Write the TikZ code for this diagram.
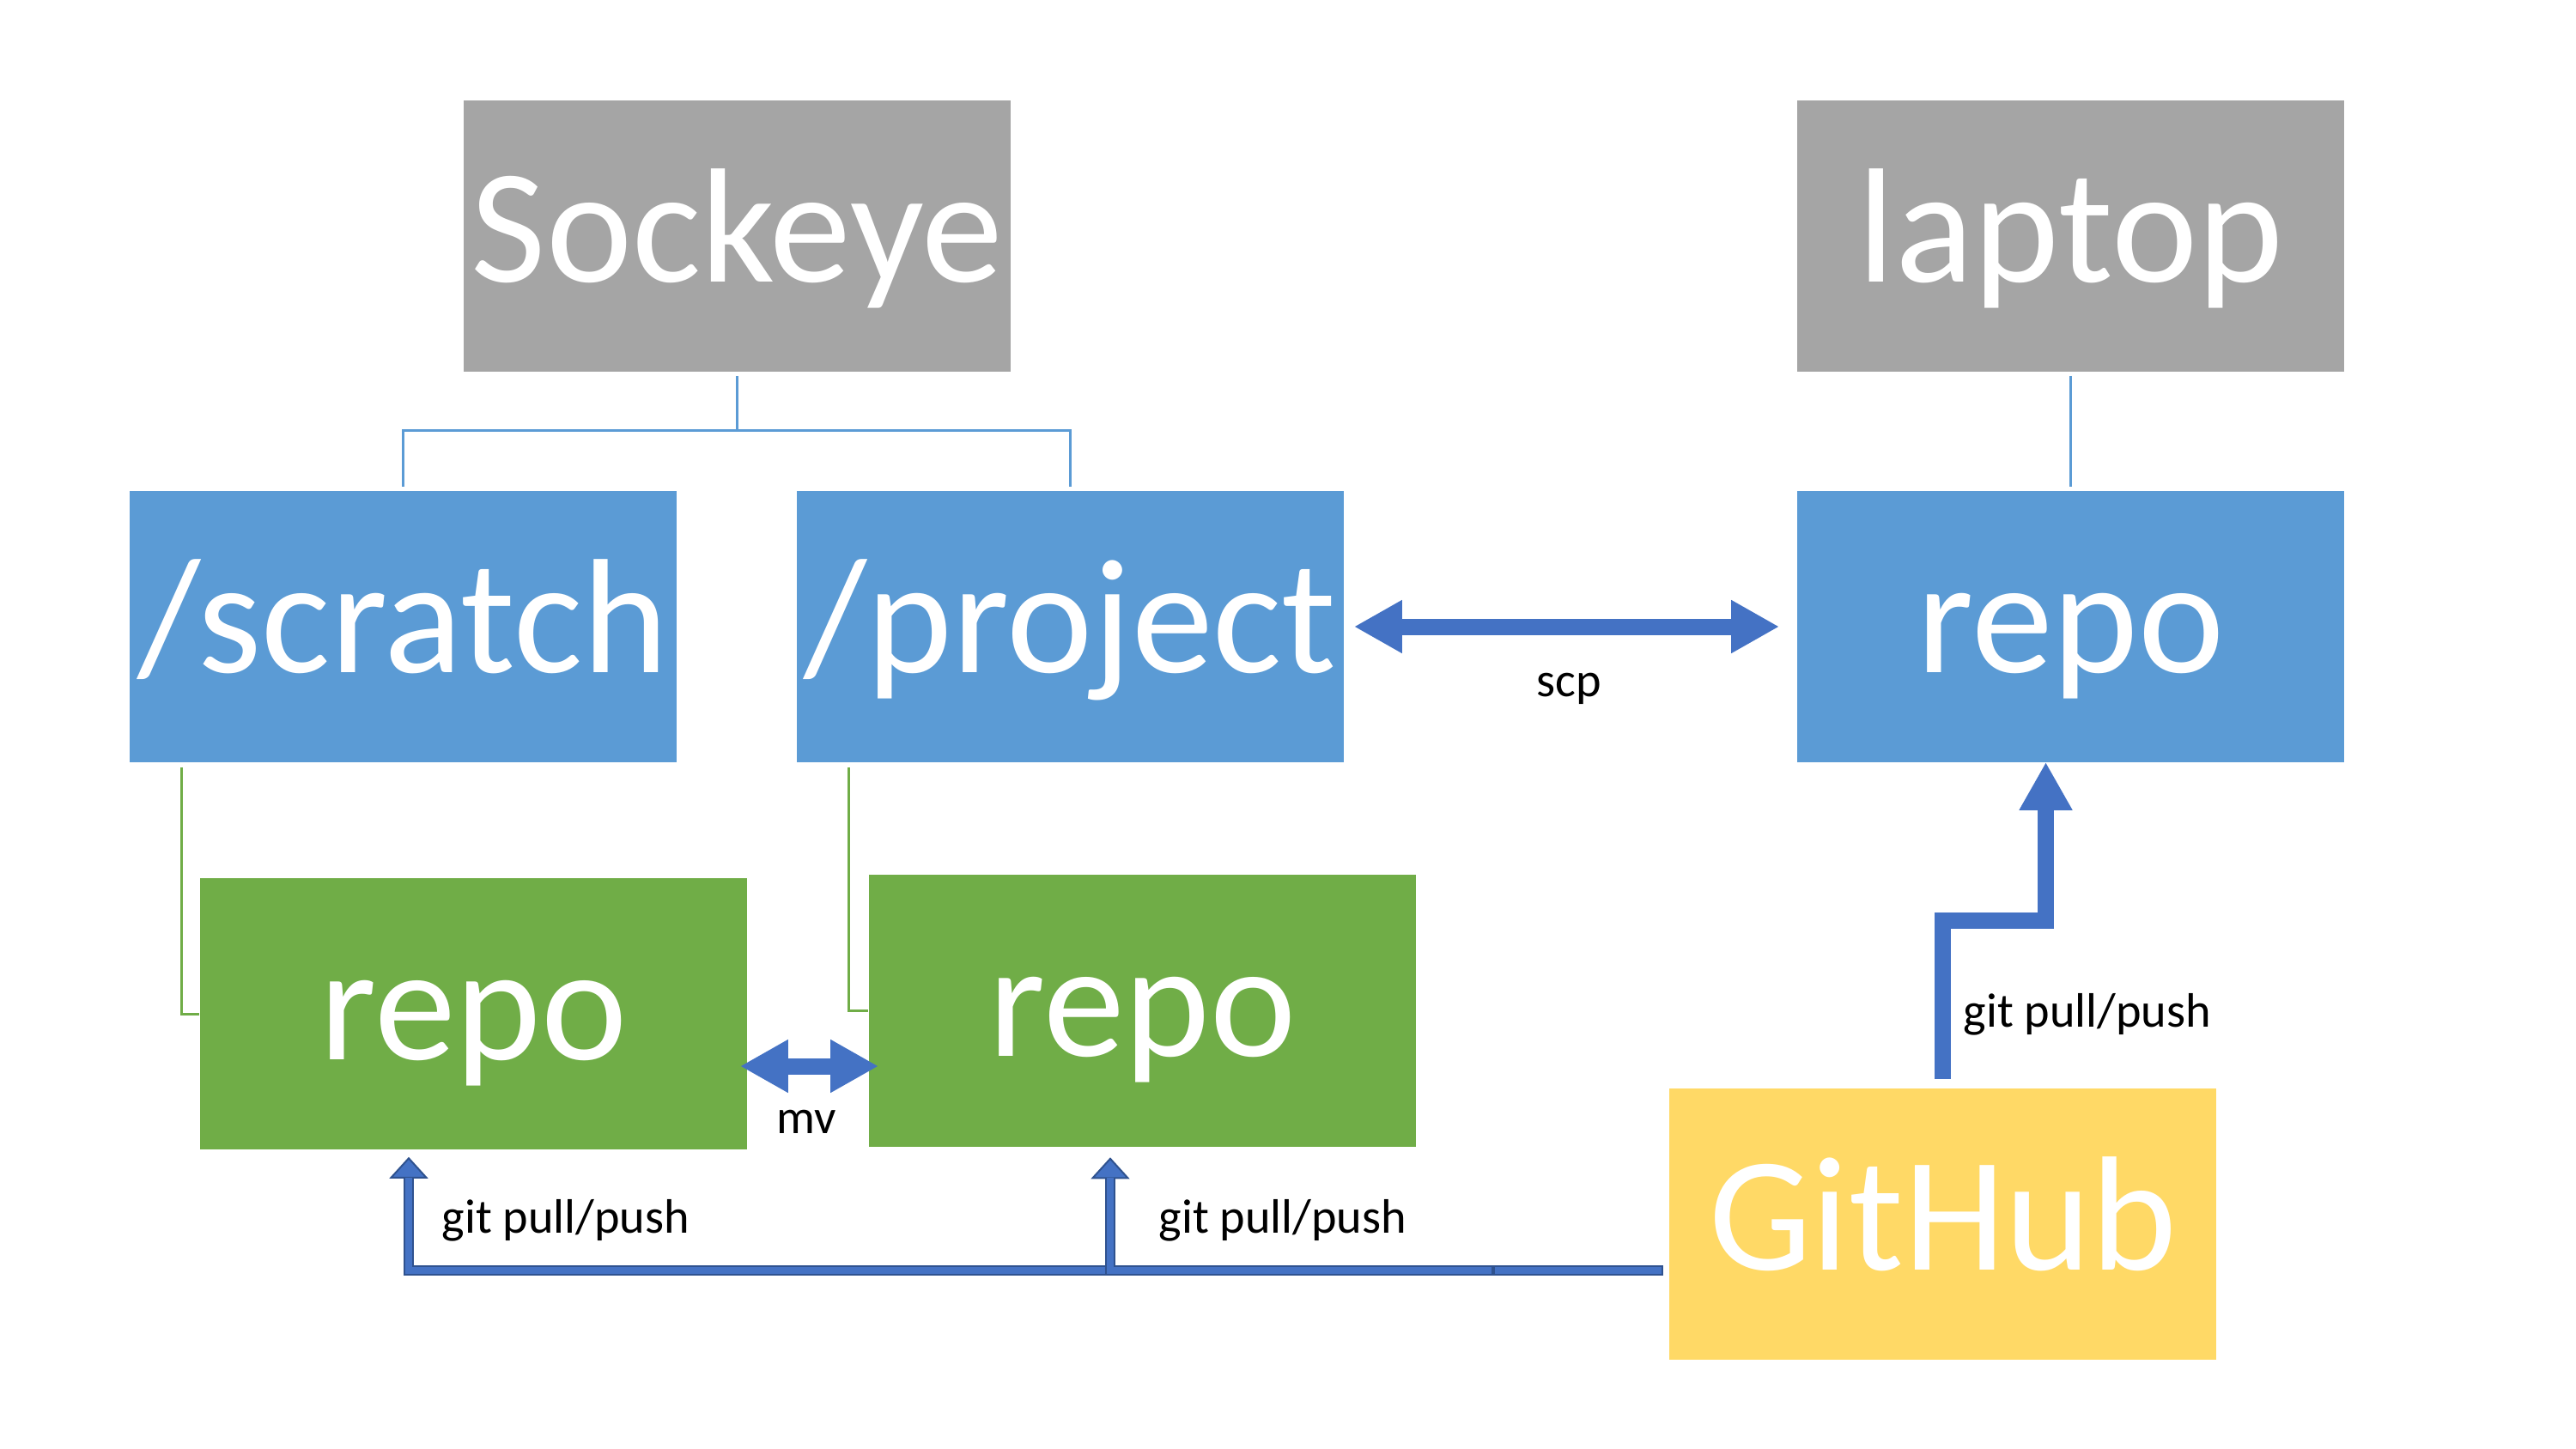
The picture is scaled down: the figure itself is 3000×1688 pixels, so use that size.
\documentclass[tikz,border=0pt]{standalone}
\usepackage{fontspec}
\setmainfont{Carlito}
\usetikzlibrary{arrows.meta,calc}
\definecolor{boxgray}{HTML}{A5A5A5}
\definecolor{boxblue}{HTML}{5B9BD5}
\definecolor{boxgreen}{HTML}{70AD47}
\definecolor{boxyellow}{HTML}{FFD966}
\definecolor{arrblue}{HTML}{4472C4}
\definecolor{arrdark}{HTML}{2F528F}
\begin{document}
\begin{tikzpicture}[x=0.01cm,y=-0.01cm,
  bigbox/.style={minimum width=6.37cm, minimum height=3.16cm, inner sep=0pt, text=white,
    font=\fontsize{54}{62}\selectfont, text height=1.46cm, text depth=0.40cm},
  graybox/.style={bigbox, fill=boxgray},
  bluebox/.style={bigbox, fill=boxblue},
  greenbox/.style={bigbox, fill=boxgreen},
  yellowbox/.style={bigbox, fill=boxyellow},
  lbl/.style={font=\fontsize{16}{19}\selectfont, inner sep=0pt},
  treeline/.style={draw=boxblue, line width=0.03cm},
  greenline/.style={draw=boxgreen, line width=0.03cm},
  fatarrow/.style={draw=arrblue, line width=0.19cm, >={Triangle[length=0.56cm,width=0.58cm]}},
  outpass/.style={draw=arrdark, line width=0.12cm,
    -{Triangle[length=0.25cm,width=0.45cm,fill=arrblue,line width=0.02cm]}},
  outbar/.style={draw=arrdark, line width=0.12cm},
  inpass/.style={draw=arrblue, line width=0.08cm, shorten >=0.24cm, shorten <=0.02cm},
  inbar/.style={draw=arrblue, line width=0.08cm, shorten >=0.02cm, shorten <=0.02cm}
]
\useasboundingbox[fill=white] (0,0) rectangle (3000,1688);

% boxes
\node[graybox]   (sock)  at (858.5,275)   {Sockeye};
\node[graybox]   (lap)   at (2411.5,275)  {laptop};
\node[bluebox]   (scr)   at (469.5,730)   {/scratch};
\node[bluebox]   (proj)  at (1246.5,730)  {/project};
\node[bluebox]   (brepo) at (2411.5,730)  {repo};
\node[greenbox]  (g1)    at (551.5,1181)  {repo};
\node[greenbox]  (g2)    at (1330.5,1177.5) {repo};
\node[yellowbox] (gh)    at (2262.5,1426) {GitHub};

% tree lines
\coordinate (tj) at ($(sock.south)+(0,68)$);
\draw[treeline] ($(sock.south)+(0,4)$) -- (tj) -| ($(scr.north)+(0,-4)$);
\draw[treeline] (tj) -| ($(proj.north)+(0,-4)$);
\draw[treeline] ($(lap.south)+(0,4)$) -- ($(brepo.north)+(0,-4)$);

% green connectors
\draw[greenline] ($(scr.south west)+(61,5)$) |- (g1.west);
\draw[greenline] ($(proj.south west)+(61,5)$) |- (g2.west);

% scp
\draw[fatarrow,<->] ($(proj.east)+(11,0)$) -- ($(brepo.west)+(-20,0)$);
\node[lbl] (scplbl) at (1827,802) {scp};

% mv
\draw[fatarrow,<->] ($(g1.east)+(-9,61)$) -- ($(g2.west)+(12,64.5)$);
\node[lbl] (mvlbl) at (939,1307) {mv};

% GitHub -> laptop repo
\coordinate (ghs) at ($(gh.north)+(0,-10)$);
\coordinate (gb) at ($(brepo.south)+(-29,-1)$);
\draw[fatarrow,->] (ghs) |- ($(ghs)!0.5!(gb)$) -| (gb);
\node[lbl,anchor=west] (gplbl1) at (2286,1182) {git pull/push};

% GitHub -> green repos
\coordinate (ghb) at ($(gh.west)+(-6,54)$);
\coordinate (seam) at ($(ghb)+(-198,0)$);
\coordinate (t1) at ($(g1.south)+(-75.5,8)$);
\coordinate (t2) at ($(g2.south)+(-37.5,12)$);
\draw[outpass] (seam) -| (t1);
\draw[inpass]  (seam) -| (t1);
\draw[outpass] (seam) -| (t2);
\draw[inpass]  (seam) -| (t2);
\draw[outbar]  (ghb) -- (seam);
\draw[inbar]   (ghb) -- (seam);
\node[lbl,anchor=west] (gplbl2) at (514,1422) {git pull/push};
\node[lbl,anchor=west] (gplbl3) at (1349,1422) {git pull/push};
\end{tikzpicture}
\end{document}
